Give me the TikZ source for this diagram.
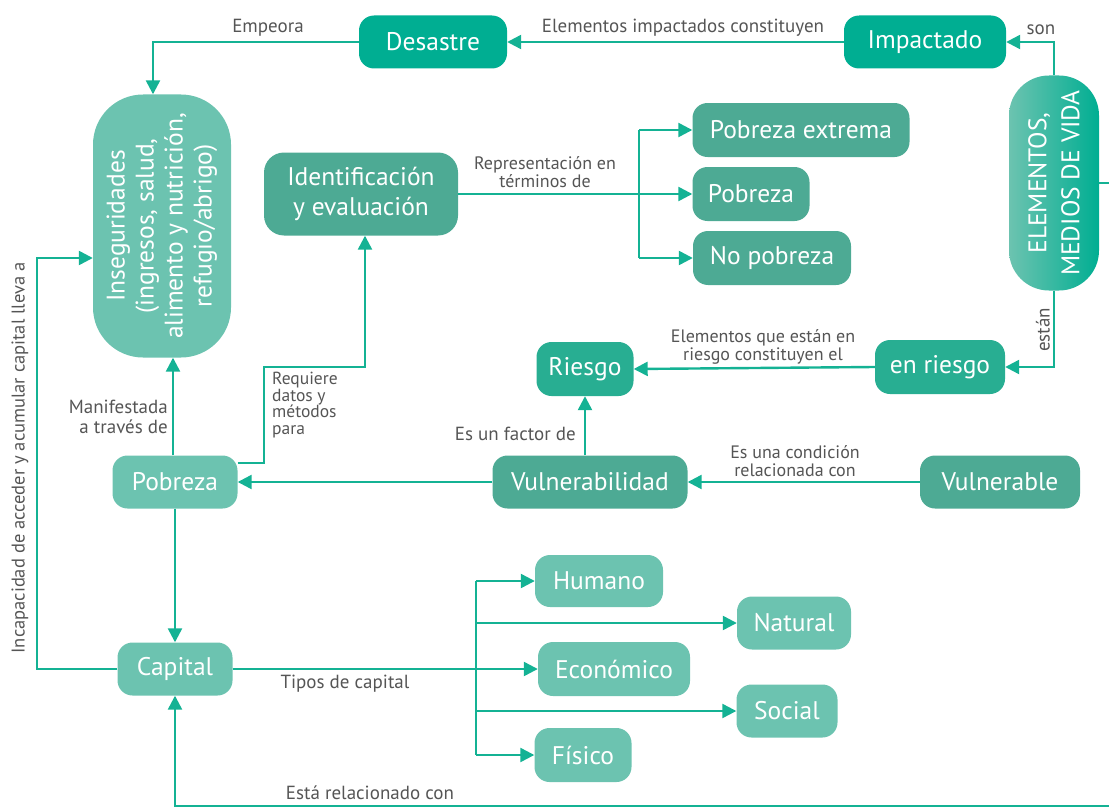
\documentclass[tikz,border=0pt]{standalone}
\usepackage{fontspec}
\setmainfont{PT Sans}
\usetikzlibrary{arrows.meta,calc}
\definecolor{cdark}{RGB}{0,174,146}
\definecolor{criesgo}{RGB}{40,174,146}
\definecolor{cmid}{RGB}{77,170,148}
\definecolor{clight}{RGB}{108,195,176}
\definecolor{cline}{RGB}{20,178,148}
\definecolor{clbl}{RGB}{85,85,85}
\newcommand{\nodefont}{\fontsize{25.5}{30}\selectfont}
\newcommand{\lblfont}{\fontsize{19}{19}\selectfont}
\newcommand{\lbltwo}{\fontsize{18}{18.5}\selectfont}
\tikzset{
  box/.style={rounded corners=15pt, text=white, font=\nodefont, inner sep=0pt, align=center},
  bdark/.style={box, fill=cdark},
  briesgo/.style={box, fill=criesgo},
  bmid/.style={box, fill=cmid},
  blight/.style={box, fill=clight},
  sz/.style 2 args={minimum width=#1pt, minimum height=#2pt},
  lbl/.style={text=clbl, font=\lblfont, inner sep=0pt, align=center},
  plain/.style={draw=cline, line width=2.4pt},
  conn/.style={plain, -{Triangle[length=14pt,width=14pt]}},
}
\begin{document}
\begin{tikzpicture}[x=1pt,y=-1pt]
\useasboundingbox (0,0) rectangle (1109,808);
% nodes
\node[bdark, sz={148}{53}] (des) at (433,42) {Desastre};
\node[bdark, sz={162}{53}] (imp) at (925,42) {Impactado};
\node[box, sz={90}{215}, rounded corners=40pt, left color=clight, right color=cdark] (elem) at (1054,183) {};
\node[text=white, font=\fontsize{25.5}{33}\selectfont, align=center, rotate=90, inner sep=0pt] (elemt) at (elem.center) {ELEMENTOS,\\MEDIOS DE VIDA};
\node[blight, sz={138}{263}, rounded corners=50pt] (ins) at (162,226) {};
\node[text=white, font=\fontsize{25.5}{29}\selectfont, align=center, rotate=90, inner sep=0pt] (inst) at (ins.center) {Inseguridades\\(ingresos, salud,\\alimento y nutrición,\\refugio/abrigo)};
\node[bmid, sz={194}{83}, rounded corners=20pt] (ide) at (361,194) {Identificación\\y evaluación};
\node[bmid, sz={217}{54}] (pe) at (801,130) {Pobreza extrema};
\node[bmid, sz={117}{54}] (pz) at (751,194) {Pobreza};
\node[bmid, sz={158}{54}] (np) at (772,258) {No pobreza};
\node[briesgo, sz={97}{54}] (rie) at (585,369) {Riesgo};
\node[briesgo, sz={130}{54}] (enr) at (940,367) {en riesgo};
\node[bmid, sz={195}{53}] (vul) at (590,482) {Vulnerabilidad};
\node[bmid, sz={160}{53}] (vble) at (1000,482) {Vulnerable};
\node[blight, sz={125}{53}] (pob) at (175,482) {Pobreza};
\node[blight, sz={115}{53}] (cap) at (175,669) {Capital};
\node[blight, sz={128}{52}] (hum) at (599,581) {Humano};
\node[blight, sz={114}{53}] (nat) at (794,623) {Natural};
\node[blight, sz={152}{54}] (eco) at (614,669) {Económico};
\node[blight, sz={101}{53}] (soc) at (787,711) {Social};
\node[blight, sz={97}{54}] (fis) at (583,755) {Físico};
% coordinates
\coordinate (stub) at (1109,183);
\coordinate (rq) at (264,367);
\coordinate (lc) at (37,258);
\coordinate (br) at (1109,806);
\coordinate (trk) at (476,669);
\coordinate (trp) at (639,194);
% connectors
\draw[conn] (imp.west) -- (des.east);
\draw[conn] (des.west) -| ([xshift=-9pt]ins.north);
\draw[conn] (elem.north) |- (imp.east);
\draw[conn] (elem.south) |- (enr.east);
\draw[plain] (elem.east |- stub) -- (stub);
\draw[conn] (enr.west) -- (rie.east);
\draw[conn] (rie.south |- vul.north) -- (rie.south);
\draw[conn] (vble.west) -- (vul.east);
\draw[conn] (vul.west) -- (pob.east);
\draw[conn] ([xshift=-2pt]pob.north) -- ([xshift=-2pt]pob.north |- ins.south);
\draw[conn] ([yshift=19pt]pob.east) -| (rq) -| ([xshift=4pt]ide.south);
\draw[conn] (pob.south) -- (cap.north);
\draw[conn] (cap.west) -| (lc) -- (lc -| ins.west);
\draw[conn] (cap.east) -- (eco.west);
\draw[conn] (br) -| (cap.south);
% capital branches
\draw[plain] (hum.west -| trk) -- (fis.west -| trk);
\draw[conn] (hum.west -| trk) -- (hum.west);
\draw[conn] (nat.west -| trk) -- (nat.west);
\draw[conn] (soc.west -| trk) -- (soc.west);
\draw[conn] (fis.west -| trk) -- (fis.west);
% poverty branches
\draw[conn] (ide.east |- pz.west) -- (pz.west);
\draw[plain] (pe.west -| trp) -- (np.west -| trp);
\draw[conn] (pe.west -| trp) -- (pe.west);
\draw[conn] (np.west -| trp) -- (np.west);
% labels
\node[lbl] (l1) at (268,28) {Empeora};
\node[lbl] (l2) at (683,28) {Elementos impactados constituyen};
\node[lbl] (l3) at (1041,30) {son};
\node[lbl, rotate=90] (l4) at (1043,330) {están};
\node[lbl, font=\lbltwo] (l5) at (545,172) {Representación en\\términos de};
\node[lbl, font=\lbltwo] (l6) at (763,347) {Elementos que están en\\riesgo constituyen el};
\node[lbl, anchor=east] (l7) at (576,434) {Es un factor de};
\node[lbl, font=\lbltwo] (l8) at (795,461) {Es una condición\\relacionada con};
\node[lbl, anchor=east, align=right, font=\fontsize{19}{19.5}\selectfont] (l9) at (168,417) {Manifestada\\a través de};
\node[lbl, anchor=north west, align=left, font=\fontsize{17.5}{16.5}\selectfont] (l10) at (272,372) {Requiere\\datos y\\métodos\\para};
\node[lbl, rotate=90, font=\fontsize{18.5}{18}\selectfont] (l11) at (20,458) {Incapacidad de acceder y acumular capital lleva a};
\node[lbl] (l12) at (345,684) {Tipos de capital};
\node[lbl] (l13) at (370,793) {Está relacionado con};
\end{tikzpicture}
\end{document}
